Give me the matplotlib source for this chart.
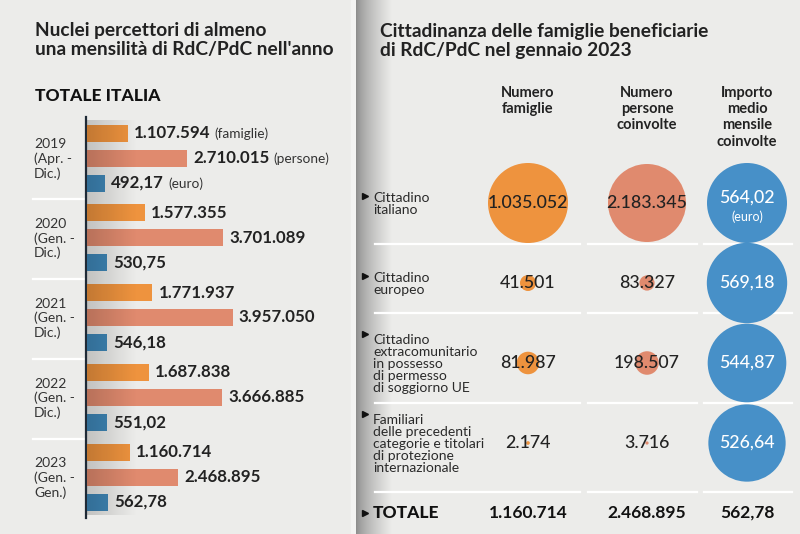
import numpy as np
import matplotlib.pyplot as plt
from matplotlib.colors import to_rgb

plt.rcParams['font.family'] = ['Lato', 'DejaVu Sans']

# --- left panel: totale Italia per anno
anni = ['2019\n(Apr. -\nDic.)', '2020\n(Gen. -\nDic.)', '2021\n(Gen. -\nDic.)',
        '2022\n(Gen. -\nDic.)', '2023\n(Gen. -\nGen.)']
famiglie = [1107594, 1577355, 1771937, 1687838, 1160714]
persone = [2710015, 3701089, 3957050, 3666885, 2468895]
importo = [492.17, 530.75, 546.18, 551.02, 562.78]

# --- right panel: cittadinanza gennaio 2023
cittadinanza = ['Cittadino\nitaliano',
                'Cittadino\neuropeo',
                'Cittadino\nextracomunitario\nin possesso\ndi permesso\ndi soggiorno UE',
                'Familiari\ndelle precedenti\ncategorie e titolari\ndi protezione\ninternazionale']
intestazioni = ['Numero\nfamiglie', 'Numero\npersone\ncoinvolte', 'Importo\nmedio\nmensile\ncoinvolte']
n_famiglie = [1035052, 41501, 81987, 2174]
n_persone = [2183345, 83327, 198507, 3716]
importo_medio = [564.02, 569.18, 544.87, 526.64]
importo_totale = 562.78

ORANGE = '#EE933E'
SALMON = '#E08A6E'
BLUE = '#4790C8'
BAR_BLUE = '#3F87B8'
BG = '#ECECEA'
TXT = '#222222'


def it_int(v):
    return f'{v:,}'.replace(',', '.')


def it_eur(v):
    return f'{v:.2f}'.replace('.', ',')


fig = plt.figure(figsize=(8, 5.34), dpi=100)
bg = fig.add_axes([0, 0, 1, 1])
bg.set_xlim(0, 800)
bg.set_ylim(534, 0)
bg.axis('off')

# backgrounds and the fold between panels
bg.axvspan(0, 354, color=BG, zorder=0)
bg.axvspan(354, 800, color='#ECECEA', zorder=0)
bg.axvspan(351, 356, color='#F3F3F2', zorder=1)
g = np.linspace(0, 1, 200) ** 0.7
c0, c1 = np.array(to_rgb('#8A8A8A')), np.array(to_rgb('#ECECEA'))
grad = (c0[None, :] * (1 - g[:, None]) + c1[None, :] * g[:, None])[None, :, :]
bg.imshow(grad, extent=[356, 392, 534, 0], aspect='auto', zorder=1)
bg.set_xlim(0, 800)
bg.set_ylim(534, 0)

# ---------------- left panel ----------------
bg.text(35, 40, "Nuclei percettori di almeno\nuna mensilità di RdC/PdC nell'anno",
        fontsize=13.8, fontweight='bold', color=TXT, va='center', linespacing=1.12)
bg.text(35, 96, 'TOTALE ITALIA', fontsize=12.5, fontweight='black', color='#111111', va='center')

px_per_m = 36.8
ax = fig.add_axes([87 / 800, (534 - 515) / 534, 263 / 800, 395 / 534])
ax.set_xlim(0, 263 / px_per_m)
ax.set_ylim(515, 120)
ax.axis('off')

group_step = 79.75
bar_step = 25
first = 133
series = [(np.array(famiglie) / 1e6, ORANGE),
          (np.array(persone) / 1e6, SALMON),
          (np.array(importo) / 1e3, BAR_BLUE)]
y_pos = {}
for k, (vals, col) in enumerate(series):
    ys = first + group_step * np.arange(len(anni)) + bar_step * k
    y_pos[k] = ys
    ax.barh(ys, vals, height=17, color=col, zorder=2)

# fold shading on the bar base
sh = np.zeros((1, 100, 4))
sh[0, :, 3] = np.linspace(0.18, 0, 100)
ax.imshow(sh, extent=[0, 50 / px_per_m, 518, 117], aspect='auto', zorder=3)
ax.set_xlim(0, 263 / px_per_m)
ax.set_ylim(515, 120)

bg.plot([86, 86], [117, 518], color='#1F2A36', lw=1.6, zorder=5)

labels = []
for k, (vals, col) in enumerate(series):
    raw = [famiglie, persone, importo][k]
    for i, v in enumerate(raw):
        s = it_eur(v) if k == 2 else it_int(v)
        t = ax.annotate(s, (vals[i], y_pos[k][i]), xytext=(4.5, 0), textcoords='offset points',
                        fontsize=12.2, fontweight='bold', color=TXT, va='center', ha='left')
        if i == 0:
            labels.append((t, ['(famiglie)', '(persone)', '(euro)'][k], y_pos[k][i]))

for i, lab in enumerate(anni):
    yc = first + group_step * i + bar_step
    bg.text(34, yc + 1, lab, fontsize=10, color='#333333', va='center', ha='left', linespacing=1.2)
    if i > 0:
        yl = first + group_step * i - 13.5
        bg.plot([33, 86], [yl, yl], color='white', lw=1.6, zorder=2)

fig.canvas.draw()
r = fig.canvas.get_renderer()
for t, suffix, yc in labels:
    bb = t.get_window_extent(r)
    bg.text(bb.x1 + 4, yc + 1, suffix, fontsize=9.8, color='#333333', va='center', ha='left')

# ---------------- right panel ----------------
bg.text(380, 41, 'Cittadinanza delle famiglie beneficiarie\ndi RdC/PdC nel gennaio 2023',
        fontsize=13.8, fontweight='bold', color=TXT, va='center', linespacing=1.12)

col_x = [528, 647, 747]
row_y = 203 + 80 * np.arange(len(cittadinanza))
for x, h in zip(col_x, intestazioni):
    bg.text(x, 86, h, fontsize=10.5, fontweight='bold', color=TXT, ha='center', va='top', linespacing=1.2)

for sep in [244, 313, 403, 492]:
    for x0, x1 in [(375, 580), (588, 697), (704, 792)]:
        bg.plot([x0, x1], [sep, sep], color='white', lw=1.6, zorder=2)

# bubble areas proportional to value, one scale per column
col_data = [(n_famiglie, ORANGE, 40), (n_persone, SALMON, 39), (importo_medio, BLUE, 40)]
for x, (vals, col, rmax) in zip(col_x, col_data):
    vals = np.array(vals, dtype=float)
    s_max = (2 * rmax * 0.72) ** 2
    bg.scatter(np.full(len(vals), x), row_y, s=s_max * vals / vals[0], color=col,
               edgecolors='none', zorder=3)

for i, lab in enumerate(cittadinanza):
    n = lab.count('\n') + 1
    bg.text(373, row_y[i] + 1, lab, fontsize=10, color='#2A2A2A', va='center', ha='left', linespacing=1.02)
    bg.plot(365, row_y[i] + 1 - (n - 1) / 2 * 15.1, marker='>', ms=5, color='#111111', zorder=6)
    bg.text(col_x[0], row_y[i], it_int(n_famiglie[i]), fontsize=12.8, fontweight='medium',
            color=TXT, ha='center', va='center', zorder=5)
    bg.text(col_x[1], row_y[i], it_int(n_persone[i]), fontsize=12.8, fontweight='medium',
            color=TXT, ha='center', va='center', zorder=5)
    if i == 0:
        bg.text(col_x[2], row_y[i] - 5, it_eur(importo_medio[i]), fontsize=12.8, fontweight='medium',
                color='white', ha='center', va='center', zorder=5)
        bg.text(col_x[2], row_y[i] + 14, '(euro)', fontsize=9, color='white',
                ha='center', va='center', zorder=5)
    else:
        bg.text(col_x[2], row_y[i], it_eur(importo_medio[i]), fontsize=12.8, fontweight='medium',
                color='white', ha='center', va='center', zorder=5)

tot_y = 513
bg.plot(365, tot_y, marker='>', ms=5, color='#111111', zorder=6)
bg.text(373, tot_y, 'TOTALE', fontsize=12.5, fontweight='black', color='#111111', va='center')
totali = [it_int(sum(n_famiglie)), it_int(sum(n_persone)), it_eur(importo_totale)]
for x, s in zip(col_x, totali):
    bg.text(x, tot_y, s, fontsize=12.5, fontweight='bold', color='#111111', ha='center', va='center')

fig.savefig('out.png', dpi=100)
